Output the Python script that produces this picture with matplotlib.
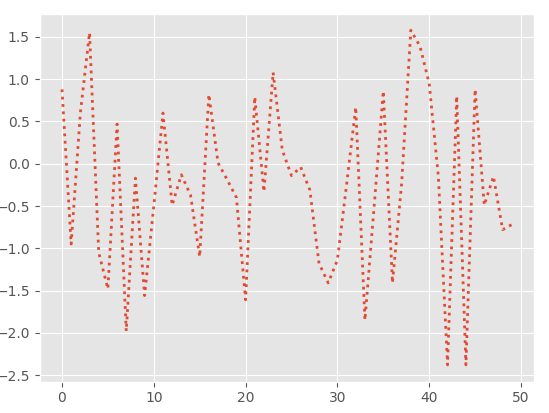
import matplotlib
matplotlib.use('Agg')
import matplotlib.pyplot as plt
import numpy as np

plt.style.use('ggplot')

x = np.arange(50)
y = [0.88, -0.95, 0.60, 1.55, -1.05, -1.48, 0.47, -1.98, -0.17, -1.56,
     -0.50, 0.60, -0.49, -0.13, -0.37, -1.10, 0.82, 0.01, -0.19, -0.40,
     -1.61, 0.79, -0.33, 1.08, 0.16, -0.14, -0.04, -0.31, -1.18, -1.41,
     -1.14, -0.25, 0.67, -1.85, -0.51, 0.86, -1.41, -0.23, 1.58, 1.39,
     0.95, -0.15, -2.38, 0.80, -2.38, 0.88, -0.49, -0.15, -0.78, -0.72]

fig = plt.figure(figsize=(5.49, 4.13), dpi=100)
ax = fig.add_axes([39.5/549, 1 - 381.6/413, (534.3 - 39.5)/549, (381.6 - 13.5)/413])
ax.plot(x, y, linestyle=':', linewidth=2)

fig.savefig('out.png', dpi=100)
